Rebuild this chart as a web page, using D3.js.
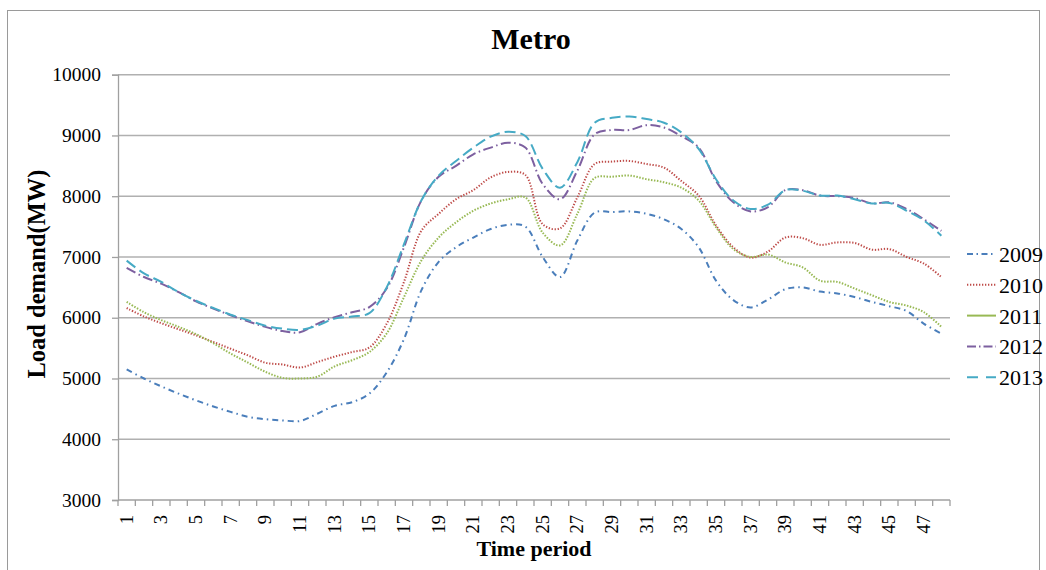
<!DOCTYPE html>
<html>
<head>
<meta charset="utf-8">
<script src="https://cdn.jsdelivr.net/npm/d3@7"></script>
<style>
  html, body { margin: 0; padding: 0; background: #fff; }
  svg { display: block; }
  text { font-family: "Liberation Serif", "Times New Roman", serif; fill: #000; }
</style>
</head>
<body>
<svg id="chart" width="1046" height="570"></svg>
<script>
// Half-hourly load demand for the Metro region, 2009-2013
const periods = d3.range(1, 49);
const years = ["2009", "2010", "2011", "2012", "2013"];

const load2009 = [5150, 5000, 4870, 4750, 4640, 4540, 4450, 4370, 4330, 4310, 4300, 4420,
  4550, 4610, 4750, 5100, 5650, 6450, 6920, 7160, 7320, 7460, 7530, 7500,
  7000, 6670, 7270, 7730, 7740, 7750, 7710, 7620, 7460, 7160, 6610, 6290,
  6170, 6300, 6470, 6500, 6430, 6400, 6340, 6260, 6190, 6110, 5900, 5740];
const load2010 = [6160, 6020, 5910, 5810, 5710, 5600, 5490, 5380, 5260, 5230, 5180, 5270,
  5360, 5435, 5510, 5900, 6590, 7430, 7710, 7950, 8100, 8310, 8400, 8350,
  7540, 7470, 7980, 8530, 8570, 8580, 8530, 8470, 8250, 8010, 7520, 7160,
  6990, 7090, 7320, 7310, 7200, 7240, 7230, 7120, 7130, 7000, 6890, 6670];
const load2011 = [6260, 6090, 5960, 5850, 5730, 5580, 5410, 5260, 5110, 5010, 5000, 5030,
  5200, 5300, 5435, 5740, 6340, 6940, 7320, 7570, 7760, 7880, 7950, 7980,
  7400, 7190, 7710, 8300, 8320, 8340, 8280, 8230, 8140, 7930, 7490, 7130,
  7000, 7040, 6910, 6830, 6610, 6590, 6480, 6370, 6260, 6200, 6090, 5850];
const load2012 = [6820, 6670, 6560, 6420, 6270, 6150, 6040, 5940, 5850, 5780, 5760, 5900,
  6010, 6090, 6175, 6480, 7160, 7930, 8320, 8500, 8690, 8800, 8880, 8800,
  8200, 7950, 8420, 9020, 9090, 9090, 9170, 9130, 8990, 8800, 8250, 7900,
  7750, 7820, 8100, 8100, 8010, 8000, 7970, 7880, 7900, 7790, 7620, 7430];
const load2013 = [6940, 6730, 6590, 6420, 6280, 6160, 6050, 5960, 5870, 5820, 5800, 5870,
  5985, 6020, 6075, 6500, 7210, 7930, 8340, 8580, 8800, 8980, 9060, 8990,
  8450, 8140, 8560, 9210, 9290, 9310, 9270, 9210, 9050, 8780, 8280, 7930,
  7790, 7860, 8100, 8090, 8010, 8010, 7950, 7880, 7890, 7760, 7600, 7350];

const yTicks = [3000, 4000, 5000, 6000, 7000, 8000, 9000, 10000];
const xTickLabels = periods.filter(p => p % 2 === 1);

const seriesValues = [load2009, load2010, load2011, load2012, load2013];
const colors = ["#4A7EBB", "#BE4B48", "#98B954", "#7D60A0", "#46AAC5"];
const dashes = ["6,4,1.5,4", "1.3,1.7", "1.5,1.5", "10,3.5,1.5,3.5", "11,5"];
const legendDashes = ["6,3.5,1.5,3.5", "1.3,1.7", null, "9,3,1.5,3", "11,8"];

const series = years.map((name, i) => ({
  name,
  values: seriesValues[i].map((v, j) => ({ period: periods[j], value: v })),
  color: colors[i],
  dash: dashes[i],
  legendDash: legendDashes[i]
}));

const svg = d3.select("#chart");
const plotLeft = 118, plotRight = 950, plotTop = 74.7, plotBottom = 500;

// outer chart frame
svg.append("rect")
  .attr("x", 7.5).attr("y", 10.5)
  .attr("width", 1032).attr("height", 600)
  .attr("fill", "none").attr("stroke", "#9a9a9a").attr("stroke-width", 1);

const x = d3.scaleBand().domain(periods).range([plotLeft, plotRight]).paddingInner(0).paddingOuter(0);
const y = d3.scaleLinear().domain([3000, 10000]).range([plotBottom, plotTop]);
const cx = p => x(p) + x.bandwidth() / 2;

// horizontal gridlines
svg.append("g")
  .selectAll("line")
  .data(yTicks.filter(t => t > 3000))
  .join("line")
  .attr("x1", plotLeft).attr("x2", plotRight)
  .attr("y1", d => y(d)).attr("y2", d => y(d))
  .attr("stroke", "#b0b0b0").attr("stroke-width", 1.5);

// y axis
const yAxis = svg.append("g")
  .attr("transform", `translate(${plotLeft},0)`)
  .call(d3.axisLeft(y).tickValues(yTicks).tickFormat(d3.format("d")).tickSize(6).tickPadding(11));
yAxis.select(".domain").attr("stroke", "#a0a0a0").attr("stroke-width", 1.3);
yAxis.selectAll(".tick line").attr("stroke", "#a0a0a0").attr("stroke-width", 1.3);
yAxis.selectAll(".tick text")
  .style("font-family", "Liberation Serif, serif")
  .style("font-size", "19.5px").attr("fill", "#000");

// x axis: tick marks on band boundaries, labels on odd periods
const xAxis = svg.append("g")
  .attr("transform", `translate(0,${plotBottom})`)
  .call(d3.axisBottom(x).tickValues(xTickLabels).tickSize(0).tickPadding(0));
xAxis.select(".domain").remove();
xAxis.append("line")
  .attr("x1", plotLeft).attr("x2", plotRight).attr("y1", 0).attr("y2", 0)
  .attr("stroke", "#a0a0a0").attr("stroke-width", 1.3);
xAxis.selectAll(".boundary")
  .data(periods.map(p => x(p)).concat([plotRight]))
  .join("line")
  .attr("class", "boundary")
  .attr("x1", d => d).attr("x2", d => d)
  .attr("y1", 0).attr("y2", 6)
  .attr("stroke", "#a0a0a0").attr("stroke-width", 1.3);
xAxis.selectAll(".tick text")
  .style("font-family", "Liberation Serif, serif")
  .style("font-size", "18.5px").attr("fill", "#000")
  .attr("text-anchor", "end")
  .attr("transform", "rotate(-90)")
  .attr("x", -15).attr("y", 0).attr("dy", "0.33em");

// load lines
const line = d3.line()
  .x(d => cx(d.period))
  .y(d => y(d.value))
  .curve(d3.curveCatmullRom.alpha(0.5));

svg.append("g")
  .selectAll("path")
  .data(series)
  .join("path")
  .attr("d", d => line(d.values))
  .attr("fill", "none")
  .attr("stroke", d => d.color)
  .attr("stroke-width", 2)
  .attr("stroke-dasharray", d => d.dash);

// title and axis titles
svg.append("text")
  .attr("x", 531).attr("y", 49)
  .attr("text-anchor", "middle")
  .style("font-size", "30px").style("font-weight", "bold")
  .text("Metro");

svg.append("text")
  .attr("transform", "translate(45,274) rotate(-90)")
  .attr("text-anchor", "middle")
  .style("font-size", "24.5px").style("font-weight", "bold")
  .text("Load demand(MW)");

svg.append("text")
  .attr("x", 534).attr("y", 556)
  .attr("text-anchor", "middle")
  .style("font-size", "22px").style("font-weight", "bold")
  .text("Time period");

// legend
const legend = svg.append("g");
const item = legend.selectAll("g")
  .data(series)
  .join("g")
  .attr("transform", (d, i) => `translate(967,${254 + i * 30.8})`);
item.append("line")
  .attr("x1", 0).attr("x2", 29).attr("y1", 0).attr("y2", 0)
  .attr("stroke", d => d.color).attr("stroke-width", 2)
  .attr("stroke-dasharray", d => d.legendDash);
item.append("text")
  .attr("x", 32).attr("y", 8)
  .style("font-size", "22px")
  .text(d => d.name);
</script>
</body>
</html>
